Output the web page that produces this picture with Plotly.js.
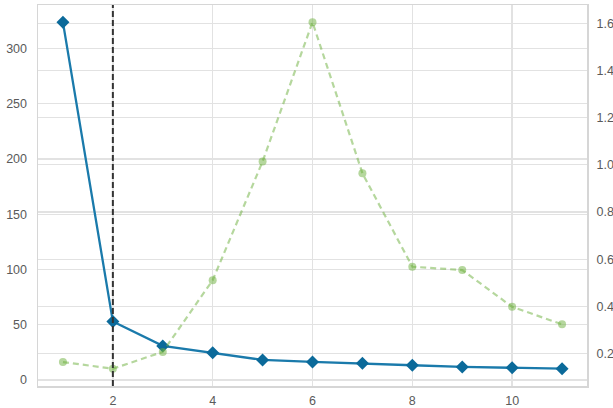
<!DOCTYPE html>
<html>
<head>
<meta charset="utf-8">
<script src="https://cdn.plot.ly/plotly-3.0.1.min.js"></script>
<style>html,body{margin:0;padding:0;background:#fff;}#chart{width:613px;height:408px;}</style>
</head>
<body>
<div id="chart"></div>
<script>
// k values
const kValues = [1, 2, 3, 4, 5, 6, 7, 8, 9, 10, 11];
// distortion score (left axis)
const distortion = [323.6, 52.8, 30.8, 24.7, 18.1, 16.3, 15.1, 13.3, 11.8, 11.1, 10.2];
// fit time in seconds (right axis)
const fitTime = [0.164, 0.136, 0.207, 0.511, 1.014, 1.604, 0.964, 0.568, 0.554, 0.398, 0.324];
// elbow position
const elbowK = 2;
// tick values
const xTicks = [2, 4, 6, 8, 10];
const yTicks = [0, 50, 100, 150, 200, 250, 300];
const y2Ticks = [0.2, 0.4, 0.6, 0.8, 1.0, 1.2, 1.4, 1.6];
const y2TickText = ['0.2', '0.4', '0.6', '0.8', '1.0', '1.2', '1.4', '1.6'];

const fontFam = '"Liberation Sans", Arial, sans-serif';
const gridC = '#e2e2e2';
const frameC = '#d6d6d6';

const traces = [
  {
    x: kValues, y: distortion, type: 'scatter', mode: 'lines+markers',
    line: {color: '#1a7aab', width: 2.3},
    marker: {symbol: 'diamond', size: 10, color: '#0b6a9a'},
    yaxis: 'y', hoverinfo: 'skip'
  },
  {
    x: kValues, y: fitTime, type: 'scatter', mode: 'lines+markers',
    line: {color: 'rgba(108,176,60,0.5)', width: 2.2, dash: '6px,4px'},
    marker: {symbol: 'circle', size: 8, color: 'rgba(108,176,60,0.5)'},
    yaxis: 'y2', hoverinfo: 'skip'
  }
];

const layout = {
  width: 613, height: 408,
  margin: {l: 38, r: 26, t: 5, b: 22, pad: 0},
  paper_bgcolor: '#ffffff', plot_bgcolor: '#ffffff',
  showlegend: false,
  font: {family: fontFam, size: 12.5, color: '#5a5a5a'},
  xaxis: {
    range: [0.5, 11.5], tickvals: xTicks, ticktext: xTicks.map(String),
    showgrid: true, gridcolor: gridC, gridwidth: 1.3, zeroline: false,
    showline: true, mirror: true, linecolor: frameC, linewidth: 1.5,
    ticks: 'outside', ticklen: 2, tickcolor: 'rgba(0,0,0,0)'
  },
  yaxis: {
    range: [-5.5, 339.3], tickvals: yTicks, ticktext: yTicks.map(String),
    showgrid: true, gridcolor: gridC, gridwidth: 1.3, zeroline: false,
    showline: true, mirror: true, linecolor: frameC, linewidth: 1.5,
    ticks: 'outside', ticklen: 7, tickcolor: 'rgba(0,0,0,0)'
  },
  yaxis2: {
    range: [0.0626, 1.677], tickvals: y2Ticks, ticktext: y2TickText,
    overlaying: 'y', side: 'right',
    showgrid: true, gridcolor: gridC, gridwidth: 1.3, zeroline: false,
    showline: false,
    ticks: 'outside', ticklen: 6, tickcolor: 'rgba(0,0,0,0)'
  },
  shapes: [
    {type: 'line', xref: 'x', yref: 'paper', x0: elbowK, x1: elbowK, y0: 0, y1: 1,
     line: {color: '#333333', width: 2, dash: '6px,3px'}, layer: 'above'}
  ]
};

Plotly.newPlot('chart', traces, layout, {staticPlot: true, displayModeBar: false});
</script>
</body>
</html>
